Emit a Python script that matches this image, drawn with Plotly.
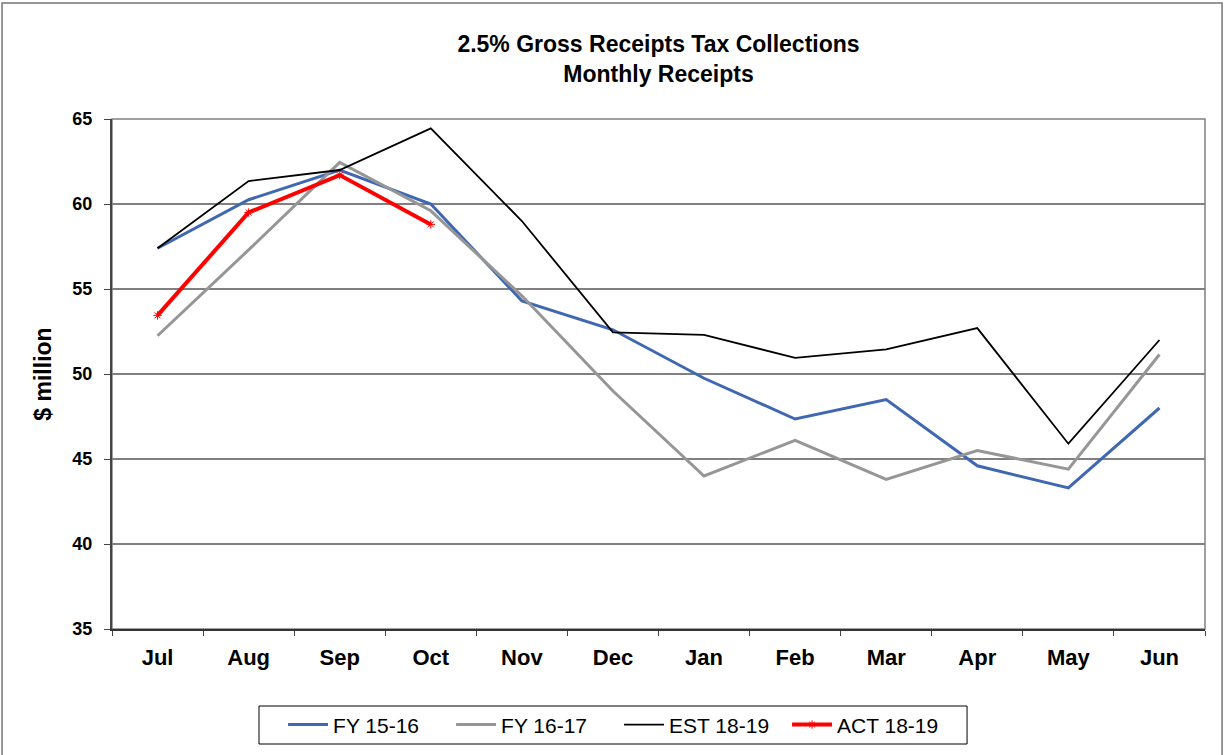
import plotly.graph_objects as go

months = ["Jul", "Aug", "Sep", "Oct", "Nov", "Dec", "Jan", "Feb", "Mar", "Apr", "May", "Jun"]
fy1516 = [57.4, 60.25, 62.0, 60.0, 54.3, 52.6, 49.75, 47.35, 48.5, 44.6, 43.3, 48.0]
fy1617 = [52.25, 57.3, 62.45, 59.6, 54.6, 49.0, 44.0, 46.1, 43.8, 45.5, 44.4, 51.15]
est1819 = [57.4, 61.35, 62.0, 64.45, 59.0, 52.45, 52.3, 50.95, 51.45, 52.7, 45.9, 52.0]
act1819 = [53.45, 59.5, 61.7, 58.8]
y_ticks = [35, 40, 45, 50, 55, 60, 65]

fig = go.Figure()
fig.add_trace(go.Scatter(x=months, y=fy1516, name="FY 15-16", mode="lines",
                         line=dict(color="#4068b2", width=3)))
fig.add_trace(go.Scatter(x=months, y=fy1617, name="FY 16-17", mode="lines",
                         line=dict(color="#969696", width=3)))
fig.add_trace(go.Scatter(x=months, y=est1819, name="EST 18-19", mode="lines",
                         line=dict(color="#000000", width=1.8)))
fig.add_trace(go.Scatter(x=months[:len(act1819)], y=act1819, name="ACT 18-19", mode="lines+markers",
                         line=dict(color="#ff0000", width=4),
                         marker=dict(symbol="asterisk-open", size=7, color="#ff0000",
                                     line=dict(color="#ff0000", width=1))))

font_family = "Liberation Sans, Arial, sans-serif"
fig.update_layout(
    width=1225, height=755, autosize=False,
    paper_bgcolor="white", plot_bgcolor="white",
    margin=dict(l=112, r=20, t=119, b=126, autoexpand=False),
    font=dict(family=font_family, color="black"),
    title=dict(text="2.5% Gross Receipts Tax Collections<br>Monthly Receipts",
               x=0.5, xref="paper", xanchor="center", y=0.931, yanchor="middle",
               automargin=False,
               font=dict(size=23, family=font_family, weight="bold")),
    showlegend=True,
    legend=dict(orientation="h", x=0.1565, xanchor="left", y=-0.188, yanchor="middle",
                borderwidth=0, bgcolor="rgba(0,0,0,0)", font=dict(size=21),
                itemwidth=40, entrywidth=113, tracegroupgap=0),
    xaxis=dict(type="category", categoryorder="array", categoryarray=months,
               range=[-0.5, 11.5], automargin=False,
               showgrid=False, showline=True, linecolor="#333", linewidth=2,
               ticks="outside", tickson="boundaries", ticklen=5, tickcolor="#444",
               tickfont=dict(size=22, family=font_family, weight="bold"), zeroline=False,
               ticklabelstandoff=8),
    yaxis=dict(range=[35, 65], tickvals=y_ticks, automargin=False,
               showgrid=True, gridcolor="#808080", gridwidth=1.5,
               showline=True, linecolor="#444", linewidth=2, ticks="outside", ticklen=6,
               tickcolor="#444", tickfont=dict(size=18, family=font_family, weight="bold"),
               ticklabelstandoff=8,
               title=dict(text="$ million", font=dict(size=23, family=font_family, weight="bold"),
                          standoff=14),
               zeroline=False),
    shapes=[
        dict(type="rect", xref="paper", yref="paper", x0=0, x1=1, y0=0, y1=1,
             line=dict(color="#808080", width=1.5), layer="below"),
        dict(type="rect", xref="paper", yref="paper", x0=-0.1006, x1=1.0156, y0=-0.257, y1=1.2275,
             line=dict(color="#777777", width=1.5), layer="below"),
        dict(type="rect", xref="paper", yref="paper", x0=0.1345, x1=0.7823, y0=-0.2255, y1=-0.151,
             line=dict(color="#000000", width=1), layer="below"),
    ],
)

fig.write_html(
    "out.html",
    post_script=("document.body.style.margin='0';"
                 "document.body.style.overflow='hidden';"
                 "document.documentElement.style.overflow='hidden';"),
    config={"displayModeBar": False},
)
